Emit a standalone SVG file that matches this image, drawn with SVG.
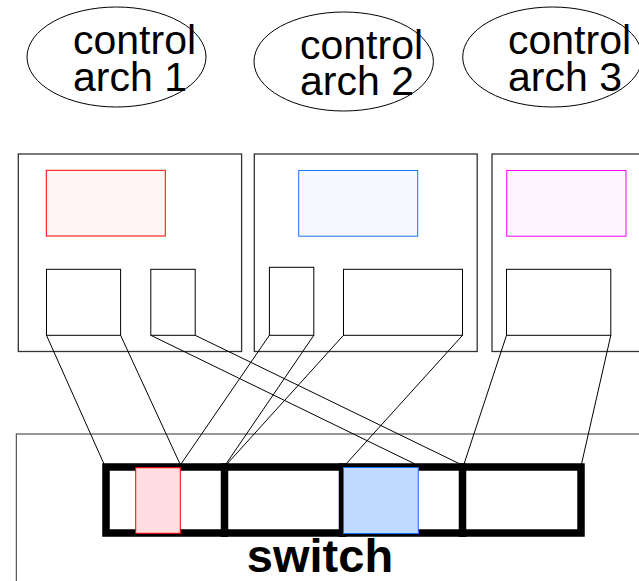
<svg xmlns="http://www.w3.org/2000/svg" width="639" height="581" viewBox="0 0 639 581">
<style>
.lbl{font-family:"Liberation Sans",Arial,sans-serif;font-size:41px;fill:#000}
.ell{fill:none;stroke:#000;stroke-width:1}
.outer{fill:#fff;stroke:#333;stroke-width:1.3}
.port{fill:#fff;stroke:#000;stroke-width:1}
.conn line{stroke:#000;stroke-width:1}
.bar{fill:none;stroke:#000;stroke-width:7.5}
.div{stroke:#000;stroke-width:7.5}
</style>
<rect width="639" height="581" fill="#fff"/>
<g id="arch1">
<ellipse class="ell" cx="116.5" cy="57" rx="89.5" ry="50"/>
<text class="lbl" x="73" y="54">control</text>
<text class="lbl" x="73" y="91">arch 1</text>
</g>
<g id="arch2">
<ellipse class="ell" cx="343.7" cy="61.5" rx="89.7" ry="49.5"/>
<text class="lbl" x="300" y="59">control</text>
<text class="lbl" x="300" y="95">arch 2</text>
</g>
<g id="arch3">
<ellipse class="ell" cx="552.4" cy="57" rx="89.7" ry="50"/>
<text class="lbl" x="508" y="54">control</text>
<text class="lbl" x="508" y="91">arch 3</text>
</g>
<g id="boxA">
<rect class="outer" x="18.3" y="154" width="223.3" height="197.5"/>
<rect x="46.3" y="170.3" width="119" height="65.7" fill="#fff5f5" stroke="#ff0000" stroke-width="1"/>
<rect class="port" x="46.5" y="269.3" width="74.1" height="66"/>
<rect class="port" x="150.8" y="269.3" width="44.4" height="66"/>
</g>
<g id="boxB">
<rect class="outer" x="254.3" y="154" width="222.9" height="197.5"/>
<rect x="298.7" y="170.5" width="119" height="65.7" fill="#f5f9ff" stroke="#1a6fff" stroke-width="1"/>
<rect class="port" x="269.4" y="267.3" width="44.4" height="68"/>
<rect class="port" x="343.5" y="269.3" width="119" height="66"/>
</g>
<g id="boxC">
<rect class="outer" x="492" y="154" width="220" height="197.5"/>
<rect x="506.7" y="170.5" width="119.3" height="65.7" fill="#fff5ff" stroke="#ff00ff" stroke-width="1"/>
<rect class="port" x="506.5" y="269.3" width="104.3" height="66"/>
</g>
<g id="switch">
<rect x="16.3" y="434" width="700" height="300" fill="#fff" stroke="#333" stroke-width="1"/>
<rect class="bar" x="106" y="467" width="475" height="66"/>
<line class="div" x1="224.5" y1="463.3" x2="224.5" y2="537"/>
<line class="div" x1="342.5" y1="463.3" x2="342.5" y2="537"/>
<line class="div" x1="462.5" y1="463.3" x2="462.5" y2="537"/>
<rect x="135.7" y="467.7" width="44.6" height="65.6" fill="#ffdde0" stroke="#ff0000" stroke-width="1"/>
<rect x="343.5" y="467.5" width="74.8" height="66" fill="#c0daff" stroke="#1a6fff" stroke-width="1"/>
<text x="320" y="572" text-anchor="middle" style="font-family:'Liberation Sans',Arial,sans-serif;font-size:47px;font-weight:bold">switch</text>
</g>
<g id="connectors" class="conn">
<line x1="46.5" y1="335.3" x2="104" y2="464"/>
<line x1="120.6" y1="335.3" x2="180" y2="464"/>
<line x1="150.8" y1="335.3" x2="415" y2="464"/>
<line x1="195.2" y1="335.3" x2="460" y2="464"/>
<line x1="269.4" y1="335.3" x2="181" y2="464"/>
<line x1="313.8" y1="335.3" x2="226" y2="464"/>
<line x1="343.5" y1="335.3" x2="227" y2="464"/>
<line x1="462.5" y1="335.3" x2="346" y2="464"/>
<line x1="506.5" y1="335.3" x2="464" y2="464"/>
<line x1="610.8" y1="335.3" x2="581.5" y2="464"/>
</g>
</svg>
